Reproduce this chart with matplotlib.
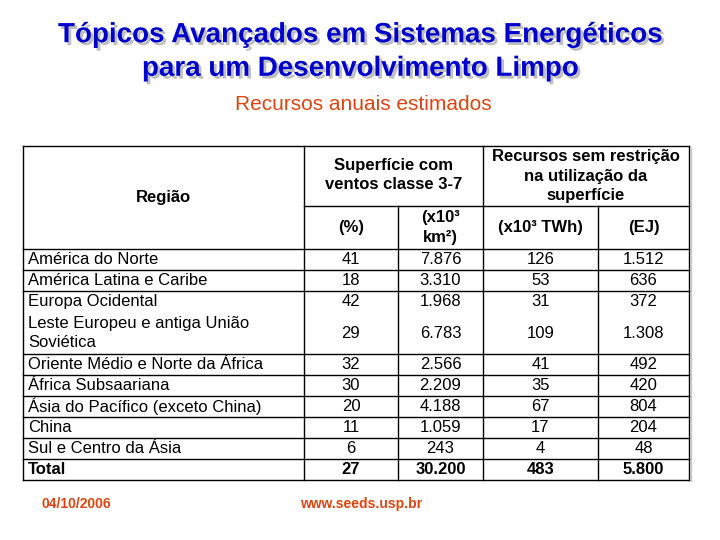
import matplotlib
matplotlib.use("Agg")
import matplotlib.pyplot as plt
import matplotlib.patheffects as pe

regions = ["América do Norte", "América Latina e Caribe", "Europa Ocidental",
           "Leste Europeu e antiga União\nSoviética", "Oriente Médio e Norte da África",
           "África Subsaariana", "Ásia do Pacífico (exceto China)", "China",
           "Sul e Centro da Ásia", "Total"]
pct = ["41", "18", "42", "29", "32", "30", "20", "11", "6", "27"]
area_km2 = ["7.876", "3.310", "1.968", "6.783", "2.566", "2.209", "4.188", "1.059", "243", "30.200"]
twh = ["126", "53", "31", "109", "41", "35", "67", "17", "4", "483"]
ej = ["1.512", "636", "372", "1.308", "492", "420", "804", "204", "48", "5.800"]
row_units = [1, 1, 1, 2, 1, 1, 1, 1, 1, 1]

title = "Tópicos Avançados em Sistemas Energéticos\npara um Desenvolvimento Limpo"
subtitle = "Recursos anuais estimados"
footer_date = "04/10/2006"
footer_url = "www.seeds.usp.br"

FONT = "Liberation Sans"
BLUE = "#0000CC"
ORANGE = "#DD4411"
LS = 1.38

fig = plt.figure(figsize=(7.2, 5.4), dpi=100)
ax = fig.add_axes([0, 0, 1, 1])
ax.set_xlim(0, 720)
ax.set_ylim(540, 0)
ax.axis("off")

# Title with drop shadow
ax.text(360, 52, title, ha="center", va="center", fontsize=20,
        fontweight="bold", color=BLUE, family=FONT, linespacing=LS,
        path_effects=[pe.SimplePatchShadow(offset=(2, -2), shadow_rgbFace="#B0B0B0", alpha=0.8),
                      pe.Normal()])
ax.text(363, 104, subtitle, ha="center", va="center", fontsize=15, color=ORANGE, family=FONT)

# Table geometry
x_cols = [23, 304, 398, 483, 598, 689]
y_top, y_mid, y_head = 146, 206, 249
y_bot = 480
unit = (y_bot - y_head) / sum(row_units)
lw = 1.0
ax.plot([x_cols[-1] + 2, x_cols[-1] + 2], [y_top + 2, y_bot + 1], color="#C8C8C8", lw=1.0)
ax.plot([x_cols[0], x_cols[-1]], [y_top, y_top], color="black", lw=lw)
ax.plot([x_cols[0], x_cols[-1]], [y_bot, y_bot], color="black", lw=lw)
for i, x in enumerate(x_cols):
    y0 = y_mid if i in (2, 4) else y_top
    ax.plot([x, x], [y0, y_bot], color="black", lw=lw)
ax.plot([x_cols[1], x_cols[-1]], [y_mid, y_mid], color="black", lw=lw)
ax.plot([x_cols[0], x_cols[-1]], [y_head, y_head], color="black", lw=lw)

# header text
hkw = dict(ha="center", va="center", fontsize=12, fontweight="bold", family=FONT)
ax.text((x_cols[0] + x_cols[1]) / 2, (y_top + y_head) / 2, "Região", **hkw)
ax.text((x_cols[1] + x_cols[3]) / 2, (y_top + y_mid) / 2 - 1, "Superfície com\nventos classe 3-7",
        linespacing=LS, **hkw)
ax.text((x_cols[3] + x_cols[5]) / 2, (y_top + y_mid) / 2,
        "Recursos sem restrição\nna utilização da\nsuperfície", linespacing=LS, **hkw)
ym = (y_mid + y_head) / 2
ax.text((x_cols[1] + x_cols[2]) / 2, ym, "(%)", **hkw)
ax.text((x_cols[2] + x_cols[3]) / 2, ym, "(x10³\nkm²)", linespacing=1.45, **hkw)
ax.text((x_cols[3] + x_cols[4]) / 2, ym, "(x10³ TWh)", **hkw)
ax.text((x_cols[4] + x_cols[5]) / 2, ym, "(EJ)", **hkw)

# data rows
y = y_head
for i, (reg, p, a, t, e, u) in enumerate(zip(regions, pct, area_km2, twh, ej, row_units)):
    h = u * unit
    yc = y + h / 2
    bold = "bold" if reg == "Total" else "normal"
    kw = dict(va="center", fontsize=12, fontweight=bold, family=FONT)
    ax.text(x_cols[0] + 5, yc, reg, ha="left", linespacing=LS, **kw)
    for j, v in enumerate([p, a, t, e]):
        ax.text((x_cols[j + 1] + x_cols[j + 2]) / 2, yc, v, ha="center", **kw)
    y += h
    # no separating line between Europa Ocidental and Leste Europeu
    if i < len(regions) - 1 and i != 2:
        ax.plot([x_cols[0], x_cols[-1]], [y, y], color="black", lw=lw)

# footer
ax.text(42, 504, footer_date, ha="left", va="center", fontsize=10, fontweight="bold",
        color=ORANGE, family=FONT)
ax.text(361, 504, footer_url, ha="center", va="center", fontsize=10, fontweight="bold",
        color=ORANGE, family=FONT)

fig.savefig("out.png", dpi=100)
